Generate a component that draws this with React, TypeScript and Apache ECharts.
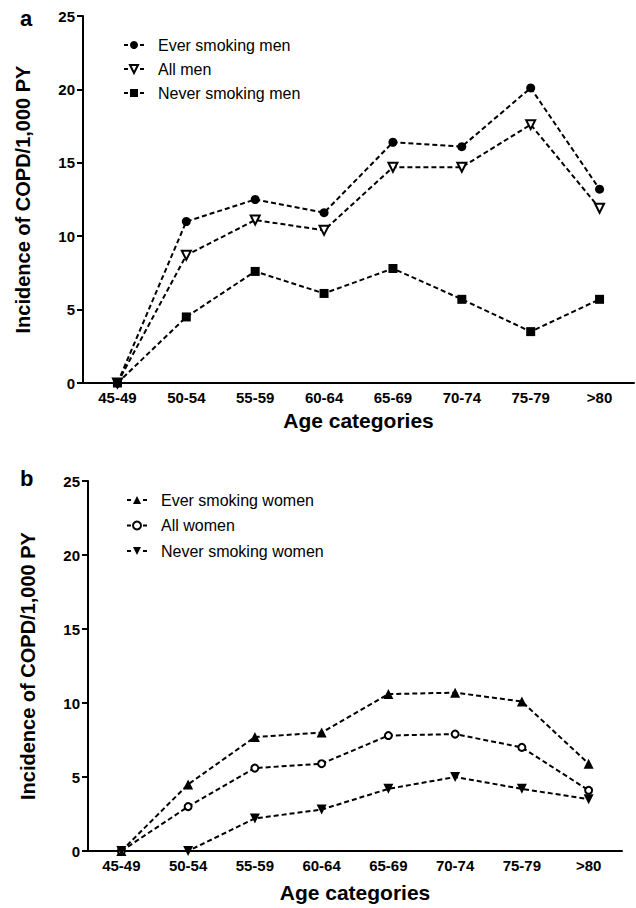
import React, { useEffect, useRef } from "react";
import * as echarts from "echarts";

const categories = ["45-49", "50-54", "55-59", "60-64", "65-69", "70-74", "75-79", ">80"];
const yTicks = [0, 5, 10, 15, 20, 25];

const everMen = [0, 11.0, 12.5, 11.6, 16.4, 16.1, 20.1, 13.2];
const allMen = [0, 8.7, 11.1, 10.4, 14.7, 14.7, 17.6, 11.9];
const neverMen = [0, 4.5, 7.6, 6.1, 7.8, 5.7, 3.5, 5.7];

const everWomen = [0, 4.5, 7.7, 8.0, 10.6, 10.7, 10.1, 5.9];
const allWomen = [0, 3.0, 5.6, 5.9, 7.8, 7.9, 7.0, 4.1];
const neverWomen = [0, 0, 2.2, 2.8, 4.2, 5.0, 4.2, 3.5];

const FONT = "Liberation Sans, Arial, Helvetica, sans-serif";

function makeXAxis(gridIndex: number, nameGap: number) {
  return {
    type: "category",
    gridIndex,
    data: categories,
    boundaryGap: true,
    axisLine: { lineStyle: { color: "#000", width: 2 } },
    axisTick: { alignWithLabel: true, length: 6, lineStyle: { color: "#000", width: 2 } },
    axisLabel: { color: "#000", fontWeight: "bold", fontSize: 15, fontFamily: FONT, margin: 7 },
    name: "Age categories",
    nameLocation: "middle",
    nameGap,
    nameTextStyle: { color: "#000", fontWeight: "bold", fontSize: 21, fontFamily: FONT },
  };
}

function makeYAxis(gridIndex: number) {
  return {
    type: "value",
    gridIndex,
    min: yTicks[0],
    max: yTicks[yTicks.length - 1],
    interval: 5,
    splitLine: { show: false },
    axisLine: { show: true, lineStyle: { color: "#000", width: 2 } },
    axisTick: { show: true, length: 6, lineStyle: { color: "#000", width: 2 } },
    axisLabel: { color: "#000", fontWeight: "bold", fontSize: 15, fontFamily: FONT, margin: 8 },
    name: "Incidence of COPD/1,000 PY",
    nameLocation: "middle",
    nameGap: 50,
    nameTextStyle: { color: "#000", fontWeight: "bold", fontSize: 20, fontFamily: FONT },
  };
}

function makeSeries(
  name: string,
  data: number[],
  idx: number,
  symbol: string,
  symbolSize: number,
  rotate: number,
  empty: boolean
) {
  return {
    type: "line",
    name,
    data,
    xAxisIndex: idx,
    yAxisIndex: idx,
    symbol,
    symbolSize,
    symbolRotate: rotate,
    showSymbol: true,
    clip: false,
    lineStyle: { color: "#000", width: 2, type: [5, 3] },
    itemStyle: empty
      ? { color: "#000", borderColor: "#000", borderWidth: 2.8 }
      : { color: "#000", borderColor: "#000", borderWidth: 0 },
  };
}

function makeLegend(left: number, top: number, gap: number, names: string[]) {
  return {
    orient: "vertical",
    left,
    top,
    itemWidth: 20,
    itemHeight: 10,
    itemGap: gap,
    data: names,
    lineStyle: { type: [4, 12, 4], width: 2, color: "#000" },
    textStyle: { color: "#000", fontSize: 16, fontFamily: FONT, padding: [0, 0, 0, 9] },
  };
}

export default function App() {
  const ref = useRef<HTMLDivElement>(null);
  useEffect(() => {
    if (!ref.current) return;
    const chart = echarts.init(ref.current, undefined, { renderer: "svg" });
    chart.setOption({
      animation: false,
      backgroundColor: "#fff",
      textStyle: { fontFamily: FONT },
      title: [
        { text: "a", left: 15, top: 2, textStyle: { fontSize: 22, fontWeight: "bold", color: "#000", fontFamily: FONT } },
        { text: "b", left: 15, top: 462, textStyle: { fontSize: 22, fontWeight: "bold", color: "#000", fontFamily: FONT } },
      ],
      grid: [
        { left: 83, top: 16, width: 551, height: 367 },
        { left: 88, top: 481, width: 534, height: 370 },
      ],
      legend: [
        makeLegend(118, 32, 8, ["Ever smoking men", "All men", "Never smoking men"]),
        makeLegend(121, 487, 9.5, ["Ever smoking women", "All women", "Never smoking women"]),
      ],
      xAxis: [makeXAxis(0, 27), makeXAxis(1, 31)],
      yAxis: [makeYAxis(0), makeYAxis(1)],
      series: [
        makeSeries("Ever smoking men", everMen, 0, "circle", 9, 0, false),
        makeSeries("All men", allMen, 0, "emptyTriangle", 9, 180, true),
        makeSeries("Never smoking men", neverMen, 0, "rect", 9, 0, false),
        makeSeries("Ever smoking women", everWomen, 1, "triangle", 10, 0, false),
        makeSeries("All women", allWomen, 1, "emptyCircle", 7, 0, true),
        makeSeries("Never smoking women", neverWomen, 1, "triangle", 10, 180, false),
      ],
    });
    return () => chart.dispose();
  }, []);
  return (
    <div
      ref={ref}
      style={{ position: "absolute", left: 0, top: 0, width: 636, height: 908, background: "#fff" }}
    />
  );
}
